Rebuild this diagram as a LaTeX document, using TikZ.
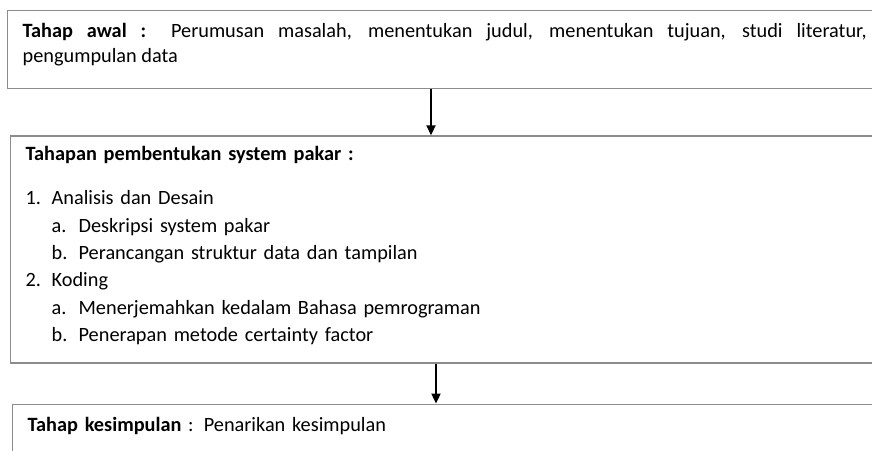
\documentclass[tikz,border=0pt]{standalone}
\usepackage{fontspec}
\setmainfont{Carlito}[WordSpace={1,2,0}]
\usetikzlibrary{positioning,arrows.meta}

\begin{document}
\begin{tikzpicture}[
    >=Latex,
    every node/.style={inner xsep=15pt, inner ysep=0pt},
    stagebox/.style={draw=black!45, line width=1.3pt, anchor=north west, text width=844pt},
    flow/.style={-{Triangle[width=9pt,length=10pt]}, line width=1.8pt}
]
\clip (0,0) rectangle (872pt,-450pt);
\node[stagebox, align=justify, font={\fontsize{20.3pt}{25pt}\selectfont\hyphenpenalty=10000},
      text height=27pt, text depth=51pt] (awal) at (7pt,-10pt)
  {\textbf{Tahap awal :} Perumusan masalah, menentukan judul, menentukan tujuan, studi literatur, pengumpulan data};
\node[stagebox, align=left, font={\fontsize{20.3pt}{27.3pt}\selectfont},
      text height=25pt, text depth=202pt, below right=46pt and 3pt of awal.south west] (bentuk)
  {\textbf{Tahapan pembentukan system pakar :}\\[16.7pt]
   \makebox[26pt][l]{1.}Analisis dan Desain\\
   \hspace*{26pt}\makebox[27pt][l]{a.}Deskripsi system pakar\\
   \hspace*{26pt}\makebox[27pt][l]{b.}Perancangan struktur data dan tampilan\\
   \makebox[26pt][l]{2.}Koding\\
   \hspace*{26pt}\makebox[27pt][l]{a.}Menerjemahkan kedalam Bahasa pemrograman\\
   \hspace*{26pt}\makebox[27pt][l]{b.}Penerapan metode certainty factor};
\node[stagebox, align=left, font={\fontsize{20.3pt}{25pt}\selectfont},
      text height=27pt, text depth=60pt, below right=40pt and 2pt of bentuk.south west] (simpul)
  {\textbf{Tahap kesimpulan} : Penarikan kesimpulan};
\draw[flow] ([xshift=424pt]awal.south west) -- ([xshift=421pt]bentuk.north west);
\draw[flow] ([xshift=426pt]bentuk.south west) -- ([xshift=424pt]simpul.north west);
\end{tikzpicture}
\end{document}
